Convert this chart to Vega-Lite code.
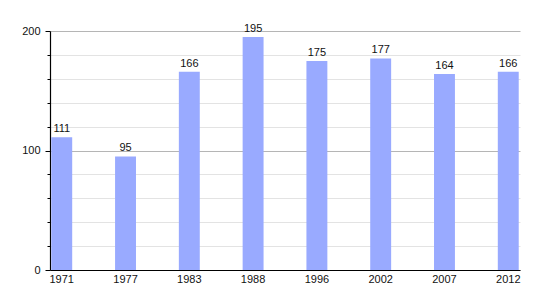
{
  "$schema": "https://vega.github.io/schema/vega-lite/v6.json",
  "autosize": "none",
  "padding": {"left": 50, "top": 31, "right": 30, "bottom": 30},
  "width": 470,
  "height": 239,
  "background": "white",
  "config": {
    "view": {"stroke": null},
    "font": "Liberation Sans",
    "axis": {"labelFont": "Liberation Sans", "labelFontSize": 11, "labelColor": "#111"}
  },
  "data": {"values": [
    {"year": "1971", "pop": 111},
    {"year": "1977", "pop": 95},
    {"year": "1983", "pop": 166},
    {"year": "1988", "pop": 195},
    {"year": "1996", "pop": 175},
    {"year": "2002", "pop": 177},
    {"year": "2007", "pop": 164},
    {"year": "2012", "pop": 166}
  ]},
  "encoding": {
    "x": {
      "field": "year", "type": "ordinal", "sort": null,
      "scale": {"paddingInner": 0.672, "paddingOuter": 0.02},
      "axis": {"title": null, "labelAngle": 0, "ticks": false, "domainColor": "#000", "domainWidth": 1.2, "labelPadding": 3, "grid": false}
    }
  },
  "layer": [
    {
      "mark": {"type": "bar", "color": "#99aaff"},
      "encoding": {
        "y": {
          "field": "pop", "type": "quantitative",
          "scale": {"domain": [0, 200], "nice": false},
          "axis": {"title": null, "values": [20, 40, 60, 80, 120, 140, 160, 180], "labels": false, "domain": false, "tickSize": 3, "tickColor": "#000", "grid": true, "gridColor": "#e3e3e3", "orient": "left"}
        }
      }
    },
    {
      "mark": {"type": "text", "dy": -8, "fontSize": 11, "color": "#111", "font": "Liberation Sans"},
      "encoding": {
        "y": {
          "field": "pop", "type": "quantitative",
          "axis": {"title": null, "values": [0, 100, 200], "domainColor": "#000", "domainWidth": 1.2, "tickSize": 5, "tickColor": "#000", "labelPadding": 5, "grid": true, "gridColor": "#b5b5b5", "orient": "left"}
        },
        "text": {"field": "pop", "type": "quantitative"}
      }
    }
  ],
  "resolve": {"axis": {"y": "independent"}}
}
